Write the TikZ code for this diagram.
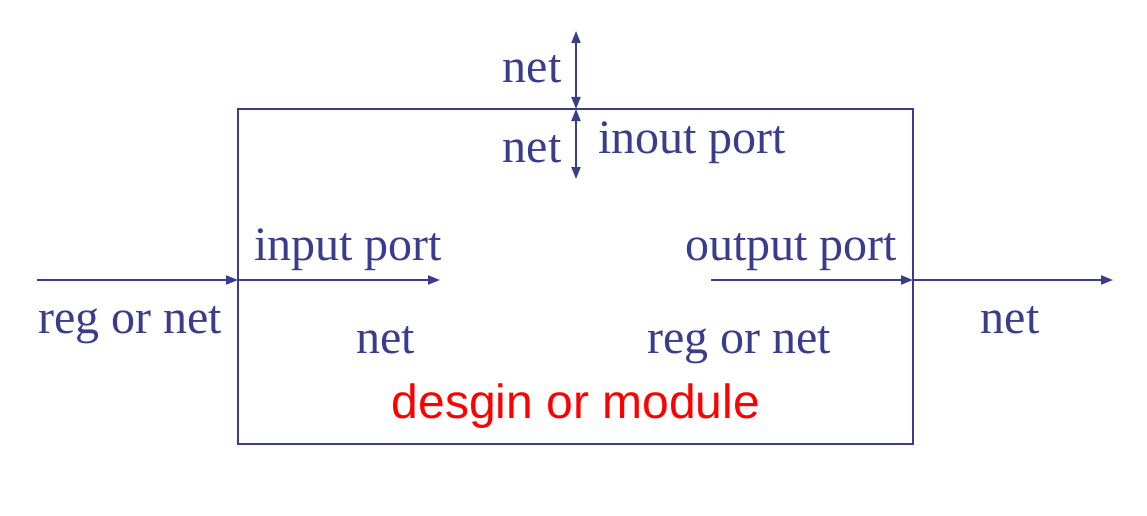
\documentclass[tikz,border=0pt]{standalone}
\usepackage{fontspec}
\setmainfont{Liberation Serif}
\newfontfamily\redsans{Liberation Sans}
\usetikzlibrary{arrows.meta}
\definecolor{dblue}{RGB}{58,60,140}
\tikzset{
  wire/.style={draw=dblue, line width=1.8pt},
  arr/.style={wire, -{Triangle[length=12pt,width=9pt]}},
  darr/.style={wire, {Triangle[length=12pt,width=9pt]}-{Triangle[length=12pt,width=9pt]}},
  lbl/.style={text=dblue, font=\fontsize{48}{52}\selectfont, inner sep=0pt, anchor=base},
}
\begin{document}
\begin{tikzpicture}[x=1pt,y=-1pt]
\useasboundingbox (0,0) rectangle (1147,516);
\draw[wire] (238,109) rectangle (913,444);
\coordinate (inL) at (37,280);
\coordinate (inB) at (238,280);
\coordinate (inE) at (440,280);
\coordinate (outS) at (711,280);
\coordinate (outB) at (913,280);
\coordinate (outE) at (1113,280);
\coordinate (ioT) at (576,31);
\coordinate (ioB) at (576,109);
\coordinate (ioE) at (576,179);
\draw[arr] (inL) -- (inB);
\draw[arr] (inB) -- (inE);
\draw[arr] (outS) -- (outB);
\draw[arr] (outB) -- (outE);
\draw[darr] (ioT) -- (ioB);
\draw[darr] (ioB) -- (ioE);
\node[lbl] (n1) at (532,83) {net};
\node[lbl] (n2) at (532,162) {net};
\node[lbl] (io) at (692,153) {inout port};
\node[lbl] (ip) at (348,260) {input port};
\node[lbl] (op) at (791,260) {output port};
\node[lbl] (rl) at (130,333) {reg or net};
\node[lbl] (n3) at (386,353) {net};
\node[lbl] (rr) at (739,353) {reg or net};
\node[lbl] (n4) at (1010,333) {net};
\node[text=red, font=\redsans\fontsize{48}{52}\selectfont, inner sep=0pt, anchor=base] (mod) at (576,418) {desgin or module};
\end{tikzpicture}
\end{document}
